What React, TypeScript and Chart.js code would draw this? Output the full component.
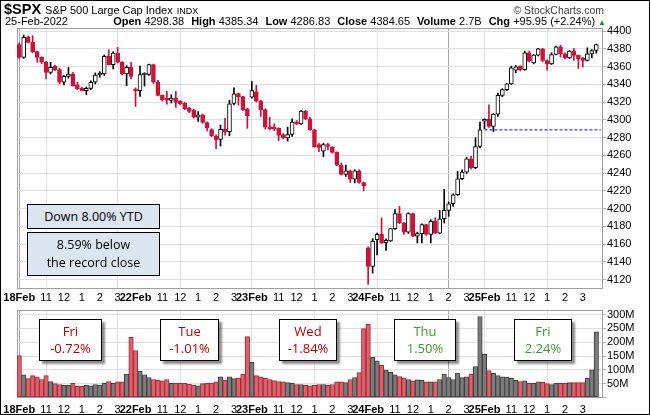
import React, { useEffect, useRef } from 'react';
import { Chart, registerables } from 'chart.js';

Chart.register(...registerables);

// ---------- data ----------
const days = ['18Feb', '22Feb', '23Feb', '24Feb', '25Feb'];
const sessionTimes = ['9:30', '9:45', '10:00', '10:15', '10:30', '10:45', '11:00', '11:15', '11:30', '11:45', '12:00', '12:15', '12:30', '12:45', '13:00', '13:15', '13:30', '13:45', '14:00', '14:15', '14:30', '14:45', '15:00', '15:15', '15:30', '15:45'];
const hourTickText: Record<string, string> = { '10:00': '', '11:00': '11', '12:00': '12', '13:00': '1', '14:00': '2', '15:00': '3' };

const opens = [
  4384.6, 4370.4, 4392.9, 4387.3, 4376.8, 4370.4, 4364.8, 4353.5, 4360.3, 4356.5, 4342.3, 4349.0, 4351.6, 4339.3, 4335.5, 4332.9, 4335.5, 4342.3, 4350.5, 4351.6, 4371.5, 4362.1, 4375.2, 4364.8, 4351.6, 4359.0,
  4334.0, 4332.8, 4350.5, 4351.0, 4362.3, 4342.3, 4327.5, 4323.4, 4321.9, 4324.5, 4320.7, 4318.9, 4313.2, 4310.6, 4303.0, 4305.7, 4297.0, 4289.0, 4281.8, 4277.8, 4289.2, 4286.6, 4318.5, 4329.5, 4326.2, 4312.0,
  4325.5, 4331.5, 4321.2, 4311.4, 4291.7, 4290.5, 4290.6, 4283.5, 4279.7, 4283.5, 4297.4, 4295.5, 4309.8, 4301.2, 4288.7, 4272.0, 4264.6, 4272.0, 4269.0, 4263.4, 4249.0, 4238.5, 4242.6, 4233.2, 4242.6, 4229.4,
  4155.8, 4135.0, 4165.0, 4171.0, 4161.6, 4163.5, 4177.4, 4194.3, 4183.8, 4173.6, 4194.3, 4169.1, 4171.8, 4181.9, 4171.0, 4185.6, 4172.5, 4188.6, 4198.0, 4205.5, 4215.6, 4233.6, 4241.1, 4256.1, 4246.0, 4270.0,
  4298.4, 4300.8, 4292.5, 4306.5, 4327.6, 4334.0, 4340.4, 4355.9, 4360.4, 4356.6, 4375.5, 4364.2, 4372.8, 4380.0, 4366.8, 4363.0, 4373.6, 4382.3, 4374.3, 4369.8, 4377.4, 4372.5, 4369.8, 4366.8, 4374.3, 4378.1,
];
const highs = [
  4386.5, 4395.5, 4394.5, 4394.7, 4377.5, 4371.0, 4366.0, 4364.8, 4361.7, 4358.0, 4349.8, 4359.0, 4353.5, 4342.3, 4336.6, 4337.0, 4344.0, 4352.8, 4354.3, 4373.0, 4379.0, 4376.8, 4381.6, 4365.5, 4361.0, 4364.8,
  4336.0, 4360.4, 4353.0, 4362.8, 4362.8, 4344.5, 4328.0, 4332.0, 4328.3, 4332.0, 4322.0, 4319.5, 4314.0, 4312.0, 4309.4, 4306.5, 4297.8, 4290.0, 4283.0, 4294.0, 4301.7, 4322.0, 4336.0, 4330.0, 4326.5, 4313.0,
  4343.0, 4339.0, 4322.0, 4312.5, 4303.0, 4295.5, 4291.0, 4284.5, 4291.7, 4301.2, 4299.3, 4310.6, 4310.6, 4303.0, 4289.5, 4273.5, 4273.6, 4273.5, 4270.0, 4264.0, 4251.5, 4249.0, 4243.5, 4243.8, 4243.8, 4230.0,
  4157.0, 4166.1, 4172.5, 4189.4, 4166.1, 4177.6, 4198.8, 4202.5, 4184.5, 4195.4, 4195.0, 4173.6, 4183.0, 4182.5, 4187.5, 4189.8, 4198.0, 4221.6, 4207.4, 4216.8, 4241.9, 4243.8, 4258.0, 4258.8, 4279.8, 4297.4,
  4301.0, 4317.0, 4307.0, 4330.2, 4335.0, 4341.0, 4360.4, 4361.2, 4361.0, 4377.4, 4377.4, 4373.5, 4380.5, 4380.5, 4367.5, 4375.5, 4383.0, 4384.1, 4375.5, 4378.0, 4380.4, 4373.0, 4370.2, 4381.1, 4379.0, 4385.3,
];
const lows = [
  4369.0, 4369.3, 4386.5, 4375.5, 4365.0, 4363.0, 4346.0, 4351.6, 4355.4, 4340.4, 4339.3, 4346.8, 4337.8, 4334.0, 4332.5, 4328.4, 4334.0, 4340.4, 4348.0, 4350.0, 4361.7, 4357.2, 4364.0, 4350.5, 4338.5, 4346.0,
  4315.0, 4326.4, 4338.0, 4350.0, 4341.0, 4327.0, 4321.0, 4317.7, 4318.9, 4314.0, 4317.0, 4311.5, 4308.0, 4302.0, 4298.1, 4296.0, 4287.5, 4281.0, 4267.5, 4270.5, 4282.8, 4282.0, 4316.8, 4316.7, 4310.5, 4290.4,
  4324.5, 4320.0, 4303.8, 4289.5, 4288.7, 4288.0, 4276.7, 4278.5, 4276.0, 4281.2, 4294.5, 4294.8, 4300.0, 4288.0, 4269.0, 4264.2, 4258.5, 4266.0, 4262.5, 4248.5, 4237.8, 4236.2, 4229.5, 4229.0, 4228.5, 4220.0,
  4114.7, 4127.5, 4148.0, 4160.5, 4153.0, 4163.0, 4176.6, 4183.0, 4171.0, 4172.0, 4168.5, 4161.3, 4161.3, 4169.9, 4161.3, 4171.8, 4171.8, 4183.8, 4191.3, 4202.5, 4214.9, 4232.5, 4239.3, 4244.5, 4245.0, 4268.5,
  4290.0, 4291.4, 4286.8, 4303.8, 4326.0, 4333.0, 4339.7, 4352.9, 4355.0, 4355.9, 4365.3, 4363.0, 4372.0, 4365.3, 4355.9, 4362.3, 4373.0, 4370.6, 4368.7, 4369.0, 4366.8, 4357.8, 4359.6, 4366.1, 4369.8, 4375.1,
];
const closes = [
  4370.4, 4392.9, 4387.3, 4376.8, 4370.4, 4364.8, 4353.5, 4359.1, 4356.5, 4342.3, 4349.0, 4351.6, 4338.5, 4334.8, 4332.9, 4335.5, 4342.3, 4350.5, 4351.6, 4371.5, 4362.1, 4375.2, 4364.8, 4351.6, 4359.0, 4348.9,
  4332.5, 4351.0, 4351.5, 4362.3, 4342.3, 4327.5, 4322.6, 4322.0, 4324.5, 4319.6, 4318.1, 4312.5, 4309.4, 4303.0, 4305.7, 4297.0, 4291.0, 4281.8, 4277.5, 4289.2, 4286.6, 4318.0, 4329.2, 4326.2, 4311.2, 4304.8,
  4332.8, 4321.0, 4311.4, 4291.7, 4289.9, 4289.5, 4282.3, 4279.7, 4283.5, 4297.4, 4295.5, 4309.8, 4301.2, 4288.7, 4269.9, 4269.0, 4272.1, 4270.0, 4263.4, 4249.0, 4238.5, 4242.6, 4233.2, 4242.6, 4229.4, 4225.5,
  4135.0, 4163.5, 4171.0, 4161.3, 4164.3, 4177.4, 4194.3, 4183.8, 4173.6, 4194.3, 4169.1, 4171.8, 4181.9, 4171.0, 4185.6, 4172.5, 4188.6, 4198.0, 4205.5, 4215.6, 4233.6, 4241.1, 4256.1, 4246.0, 4270.0, 4288.7,
  4300.0, 4292.5, 4306.5, 4327.6, 4334.0, 4340.4, 4358.5, 4359.6, 4356.6, 4375.5, 4366.1, 4372.8, 4380.0, 4366.8, 4363.0, 4373.6, 4382.3, 4374.3, 4369.8, 4377.4, 4372.5, 4368.7, 4366.8, 4374.3, 4378.1, 4384.7,
];
// volume in millions of shares
const volumes = [
  152, 82, 68, 79, 75, 65, 79, 58, 50, 47, 44, 44, 51, 40, 40, 44, 42, 47, 45, 51, 58, 51, 57, 57, 85, 218,
  170, 95, 82, 72, 65, 63, 60, 65, 51, 51, 51, 51, 48, 45, 42, 50, 51, 52, 57, 75, 63, 75, 68, 70, 85, 220,
  127, 79, 75, 69, 65, 61, 58, 57, 54, 51, 47, 47, 44, 42, 44, 47, 47, 44, 47, 57, 57, 54, 65, 72, 90, 249,
  266, 145, 133, 116, 99, 91, 82, 76, 70, 65, 60, 64, 63, 57, 57, 57, 65, 85, 72, 65, 88, 72, 75, 85, 112, 293,
  157, 97, 87, 79, 75, 74, 69, 62, 58, 60, 51, 51, 57, 55, 50, 47, 51, 51, 51, 54, 54, 54, 54, 69, 100, 238,
];
const priorClose = 4380.26;       // close before the first bar
const yesterdayClose = 4288.7;    // previous session close (dashed line)
const todayStartIndex = 104;
const priceTickStep = 20;
const volumeTickStep = 50;

const headerStats = [
  ['Open', '4298.38'], ['High', '4385.34'], ['Low', '4286.83'], ['Close', '4384.65'], ['Volume', '2.7B'], ['Chg', '+95.95 (+2.24%)'],
];
const priceNotes = [['Down 8.00% YTD'], ['8.59% below', 'the record close']];
const dayNotes = [
  { day: 'Fri', chg: '-0.72%' },
  { day: 'Tue', chg: '-1.01%' },
  { day: 'Wed', chg: '-1.84%' },
  { day: 'Thu', chg: '1.50%' },
  { day: 'Fri', chg: '2.24%' },
];

// ---------- helpers ----------
const BARS_PER_DAY = sessionTimes.length;
const categories = [...days.flatMap((d) => sessionTimes.map((t) => `${d} ${t}`)), ''];
const FONT = '"Liberation Sans", Arial, sans-serif';
const NOTE_FONT = '"Open Sans", "Noto Sans", sans-serif';
const RED = '#d0103a';
const DAY_GRID = '#a8a8a8';
const HOUR_GRID = '#e0e0e0';

function tickText(index: number): string | null {
  const c = categories[index];
  if (!c) return null;
  const [d, t] = c.split(' ');
  if (t === sessionTimes[0]) return d;
  return t in hourTickText ? hourTickText[t] : null;
}

const isUp = closes.map((c, i) => c >= opens[i]);
const closedHigher = closes.map((c, i) => c >= (i === 0 ? priorClose : closes[i - 1]));

const framePlugin = {
  id: 'frame',
  beforeDatasetsDraw(chart: any) {
    const { ctx, chartArea: a } = chart;
    ctx.save();
    ctx.strokeStyle = '#a0a0a0';
    ctx.lineWidth = 1;
    ctx.strokeRect(Math.round(a.left) + 0.5, Math.round(a.top) + 0.5, Math.round(a.right - a.left) - 1, Math.round(a.bottom - a.top) - 1);
    ctx.restore();
  },
};

// draws the time-axis labels (bold day names, normal hours) at the category positions
function timeLabelsPlugin(offsetY: number) {
  return {
    id: 'timeLabels',
    afterDraw(chart: any) {
      const { ctx } = chart;
      const xs = chart.scales.x;
      ctx.save();
      ctx.fillStyle = '#000';
      ctx.textAlign = 'center';
      ctx.textBaseline = 'middle';
      categories.forEach((_, i) => {
        const t = tickText(i);
        if (!t) return;
        const bold = i % BARS_PER_DAY === 0;
        ctx.font = `${bold ? 'bold ' : ''}11px ${FONT}`;
        ctx.fillText(t, xs.getPixelForValue(i), xs.top + offsetY);
      });
      ctx.restore();
    },
  };
}

function xScale(height: number) {
  return {
    type: 'category',
    offset: true,
    grid: {
      offset: false,
      drawTicks: false,
      lineWidth: 1,
      color: (c: any) => (tickText(c.index) === null ? 'rgba(0,0,0,0)' : c.index % BARS_PER_DAY === 0 ? DAY_GRID : HOUR_GRID),
    },
    border: { display: false },
    ticks: {
      autoSkip: false,
      maxRotation: 0,
      minRotation: 0,
      color: 'rgba(0,0,0,0)',
      font: { size: 1 },
      callback: (_v: any, i: number) => tickText(i),
    },
    afterFit: (s: any) => {
      s.height = height;
    },
  };
}

export default function App() {
  const priceRef = useRef<HTMLCanvasElement>(null);
  const volRef = useRef<HTMLCanvasElement>(null);

  useEffect(() => {
    document.body.style.margin = '0';
    const price = new Chart(priceRef.current as HTMLCanvasElement, {
      type: 'bar',
      data: {
        labels: categories,
        datasets: [
          {
            type: 'bar',
            data: lows.map((l, i) => [l, highs[i]]),
            backgroundColor: isUp.map((u) => (u ? '#000' : RED)),
            barThickness: 1,
            grouped: false,
            order: 2,
          },
          {
            type: 'bar',
            data: opens.map((o, i) => [o, closes[i]]),
            backgroundColor: isUp.map((u) => (u ? '#fff' : RED)),
            borderColor: isUp.map((u) => (u ? '#000' : RED)),
            borderWidth: 1,
            borderSkipped: false,
            barThickness: 4,
            minBarLength: 2,
            grouped: false,
            order: 1,
          },
          {
            type: 'line',
            data: categories.map((_, i) => (i >= todayStartIndex ? yesterdayClose : null)),
            borderColor: '#0000e0',
            borderWidth: 1,
            borderDash: [3, 2],
            pointRadius: 0,
            order: 3,
          },
        ] as any,
      },
      options: {
        animation: false,
        responsive: false,
        layout: { padding: { left: 17, top: 28, right: 0, bottom: 0 } },
        plugins: { legend: { display: false }, tooltip: { enabled: false } },
        scales: {
          x: xScale(13) as any,
          y: {
            position: 'right',
            min: 4109.5,
            max: 4403.4,
            border: { display: false },
            grid: { color: HOUR_GRID, drawTicks: true, tickLength: 3, tickColor: '#b0b0b0' },
            ticks: {
              stepSize: priceTickStep,
              includeBounds: false,
              autoSkip: false,
              padding: 1,
              color: '#000',
              font: { family: FONT, size: 11 },
              callback: (v: any) => String(v),
            },
            afterFit: (s: any) => {
              s.width = 47;
            },
          } as any,
        },
      },
      plugins: [framePlugin, timeLabelsPlugin(8.5)],
    });

    const vol = new Chart(volRef.current as HTMLCanvasElement, {
      type: 'bar',
      data: {
        labels: categories,
        datasets: [
          {
            data: volumes,
            backgroundColor: closedHigher.map((h) => (h ? '#7c7c7c' : '#d4656f')),
            borderColor: closedHigher.map((h) => (h ? '#3e3e3e' : '#b8202f')),
            borderWidth: 1,
            borderSkipped: false,
            barPercentage: 1,
            categoryPercentage: 1,
          },
        ],
      },
      options: {
        animation: false,
        responsive: false,
        layout: { padding: { left: 17, top: 4, right: 0, bottom: 0 } },
        plugins: { legend: { display: false }, tooltip: { enabled: false } },
        scales: {
          x: xScale(17.5) as any,
          y: {
            position: 'right',
            min: 0,
            max: 318,
            border: { display: false },
            grid: { color: HOUR_GRID, drawTicks: true, tickLength: 3, tickColor: '#b0b0b0' },
            ticks: {
              stepSize: volumeTickStep,
              includeBounds: false,
              autoSkip: false,
              padding: 1,
              color: '#000',
              font: { family: FONT, size: 11 },
              callback: (v: any) => (v === 0 ? '' : `${v}M`),
            },
            afterFit: (s: any) => {
              s.width = 47;
            },
          } as any,
        },
      },
      plugins: [framePlugin, timeLabelsPlugin(12)],
    });

    return () => {
      price.destroy();
      vol.destroy();
    };
  }, []);

  const noteLefts = [39, 160, 279, 394, 514];
  const noteWidths = [63, 59, 58, 62, 58];

  return (
    <div style={{ position: 'relative', width: 650, height: 415, background: '#fff', overflow: 'hidden', fontFamily: FONT, color: '#000' }}>
      <canvas ref={priceRef} width={650} height={302} style={{ position: 'absolute', left: 0, top: 0 }} />
      <canvas ref={volRef} width={650} height={113} style={{ position: 'absolute', left: 0, top: 302 }} />

      {/* header line 1 */}
      <div style={{ position: 'absolute', left: 4, top: 2, display: 'flex', alignItems: 'baseline', whiteSpace: 'nowrap', lineHeight: '15px' }}>
        <span style={{ fontWeight: 'bold', fontSize: 14.5 }}>$SPX</span>
        <span style={{ fontSize: 11, marginLeft: 4 }}>S&amp;P 500 Large Cap Index</span>
        <span style={{ fontSize: 9, marginLeft: 4 }}>INDX</span>
      </div>
      <div style={{ position: 'absolute', right: 46, top: 4, fontSize: 10.5, color: '#404040', whiteSpace: 'nowrap', lineHeight: '12px' }}>© StockCharts.com</div>

      {/* header line 2 */}
      <div style={{ position: 'absolute', left: 5, top: 15, fontSize: 11, lineHeight: '12px', whiteSpace: 'nowrap' }}>25-Feb-2022</div>
      <div style={{ position: 'absolute', right: 44, top: 15, fontSize: 11, lineHeight: '12px', whiteSpace: 'nowrap', display: 'flex', alignItems: 'baseline' }}>
        {headerStats.map(([k, v], i) => (
          <span key={k} style={{ marginLeft: i === 0 ? 0 : 7 }}>
            <b>{k}</b> {v}
          </span>
        ))}
        <span style={{ color: '#2e7d32', fontSize: 8, marginLeft: 3 }}>▲</span>
      </div>

      {/* price panel notes */}
      {priceNotes.map((lines, i) => (
        <div
          key={i}
          style={{
            position: 'absolute',
            left: 27,
            top: i === 0 ? 204 : 232,
            width: 133,
            height: i === 0 ? 25 : 44,
            boxSizing: 'border-box',
            border: '1px solid #000',
            background: '#dce6f2',
            fontFamily: NOTE_FONT,
            fontSize: 12.5,
            lineHeight: '18px',
            display: 'flex',
            flexDirection: 'column',
            justifyContent: 'center',
            alignItems: 'center',
          }}
        >
          {lines.map((l) => (
            <div key={l}>{l}</div>
          ))}
        </div>
      ))}

      {/* volume panel notes */}
      {dayNotes.map((n, i) => {
        const color = n.chg.startsWith('-') ? '#c00000' : '#3d9b35';
        return (
          <div
            key={i}
            style={{
              position: 'absolute',
              left: noteLefts[i],
              top: 319,
              width: noteWidths[i],
              height: 42,
              boxSizing: 'border-box',
              border: '1px solid #000',
              background: '#fff',
              boxShadow: '3px 3px 2px rgba(0,0,0,0.45)',
              fontFamily: NOTE_FONT,
              fontSize: 13,
              lineHeight: '17px',
              color,
              display: 'flex',
              flexDirection: 'column',
              justifyContent: 'center',
              alignItems: 'center',
            }}
          >
            <div>{n.day}</div>
            <div>{n.chg}</div>
          </div>
        );
      })}

      <div style={{ position: 'absolute', left: 0, top: 0, width: 650, height: 415, boxSizing: 'border-box', border: '1px solid #000', pointerEvents: 'none' }} />
    </div>
  );
}
